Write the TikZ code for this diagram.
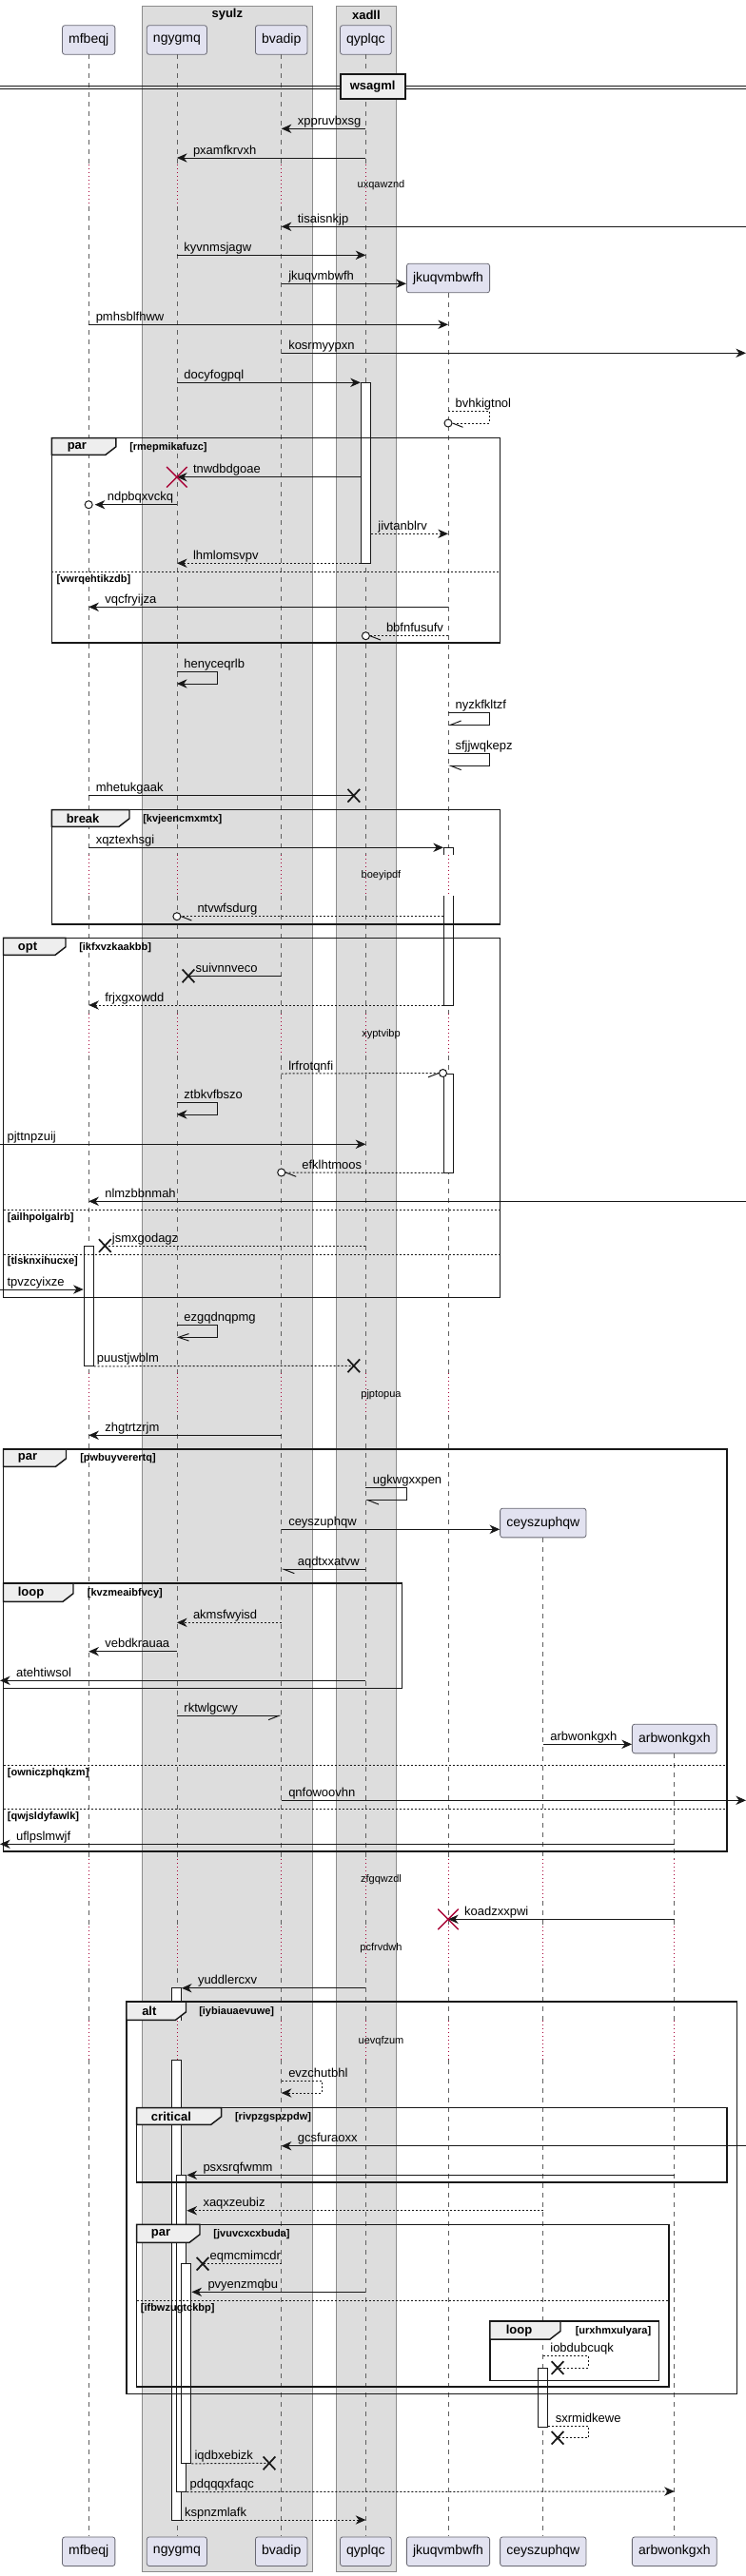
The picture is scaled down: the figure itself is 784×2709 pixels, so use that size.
\documentclass[tikz,border=0pt]{standalone}
\usepackage{fontspec}
\setmainfont{Liberation Sans}
\usetikzlibrary{arrows.meta,calc,shapes.misc}

\definecolor{grpfill}{RGB}{221,221,221}
\definecolor{grpline}{RGB}{140,140,140}
\definecolor{partfill}{RGB}{226,226,240}
\definecolor{partline}{RGB}{105,105,115}
\definecolor{lifegray}{RGB}{95,95,95}
\definecolor{crimson}{RGB}{168,0,54}
\definecolor{tabfill}{RGB}{238,238,238}
\definecolor{ink}{RGB}{24,24,24}

\tikzset{
  part/.style={draw=partline, fill=partfill, rounded corners=2pt, line width=0.6pt,
    minimum height=23pt, inner xsep=5pt, font=\fontsize{10.5}{12}\selectfont},
  grp/.style={draw=grpline, fill=grpfill, line width=0.6pt},
  grptitle/.style={inner sep=0pt, font=\fontsize{9.75}{11}\selectfont\bfseries},
  life/.style={draw=lifegray, line width=0.55pt, dash pattern=on 3.75pt off 3.75pt},
  delay/.style={draw=crimson, line width=0.6pt, dash pattern=on 0.6pt off 2.4pt},
  delaytext/.style={inner sep=0pt, font=\fontsize{8.25}{10}\selectfont},
  divbox/.style={draw=ink, fill=tabfill, line width=1.3pt, minimum width=51pt,
    minimum height=19.7pt, inner sep=0pt, font=\fontsize{9.75}{11}\selectfont\bfseries},
  frm/.style={draw=ink, line width=1.1pt},
  tab/.style={draw=ink, fill=tabfill, line width=1.1pt},
  tabtext/.style={anchor=west, inner sep=0pt, font=\fontsize{9.75}{11}\selectfont\bfseries},
  cond/.style={anchor=west, inner sep=0pt, font=\fontsize{8.25}{10}\selectfont\bfseries},
  sep/.style={draw=ink, line width=0.6pt, dash pattern=on 1.5pt off 1.5pt},
  msg/.style={draw=ink, line width=0.75pt},
  ret/.style={msg, dash pattern=on 1.5pt off 1.5pt},
  tip/.style={-{Stealth[length=8pt,width=7pt,inset=2.5pt]}},
  harp/.style={-{Straight Barb[harpoon,length=8.25pt,width=6.5pt]}},
  harpsw/.style={-{Straight Barb[harpoon,swap,length=8.25pt,width=6.5pt]}},
  barb/.style={-{Straight Barb[length=8.25pt,width=5.6pt]}},
  lr/.style={anchor=base west, inner sep=0pt, xshift=5.3pt, yshift=3pt, font=\fontsize{9.75}{11}\selectfont},
  rl/.style={anchor=base west, inner sep=0pt, xshift=12.45pt, yshift=3pt, font=\fontsize{9.75}{11}\selectfont},
  lrb/.style={anchor=base west, inner sep=0pt, xshift=2pt, yshift=3pt, font=\fontsize{9.75}{11}\selectfont},
  act/.style={draw=ink, fill=white, line width=0.75pt, minimum width=7.5pt, inner sep=0pt},
  lost/.style={draw=ink, cross out, line width=1.3pt, minimum width=8.25pt, minimum height=9pt, inner sep=0pt},
  kill/.style={draw=crimson, cross out, line width=1.1pt, minimum size=15pt, inner sep=0pt},
  ring/.style={draw=ink, fill=white, circle, line width=0.75pt, minimum size=6pt, inner sep=0pt},
}

\begin{document}
\begin{tikzpicture}[x=0.75pt,y=-0.75pt]
\useasboundingbox (0,0) rectangle (784,2709);

% Group boxes
\draw[grp] (149.6,6) rectangle (328,2704.3);
\draw[grp] (353.2,6) rectangle (416.6,2704.3);
\node[grptitle] (syulz) at (238.8,15.5) {syulz};
\node[grptitle] (xadll) at (384.9,15.5) {xadll};

% Edges of the page
\coordinate (lft) at (0,0);
\coordinate (rgt) at (784,0);

% Participants
\node[part] (mfbeqj) at (93.2,42) {mfbeqj};
\node[part] (ngygmq) at (185.9,42) {ngygmq};
\node[part] (bvadip) at (295.7,42) {bvadip};
\node[part] (qyplqc) at (384.4,42) {qyplqc};
\node[part] (jkuqvmbwfh) at (471,292.5) {jkuqvmbwfh};
\node[part] (ceyszuphqw) at (570.8,1601.5) {ceyszuphqw};
\node[part] (arbwonkgxh) at (708.8,1828.5) {arbwonkgxh};
\node[part] (mfbeqj-end) at (93.2,2683.2) {mfbeqj};
\node[part] (ngygmq-end) at (185.9,2683.2) {ngygmq};
\node[part] (bvadip-end) at (295.7,2683.2) {bvadip};
\node[part] (qyplqc-end) at (384.4,2683.2) {qyplqc};
\node[part] (jkuqvmbwfh-end) at (471,2683.2) {jkuqvmbwfh};
\node[part] (ceyszuphqw-end) at (570.8,2683.2) {ceyszuphqw};
\node[part] (arbwonkgxh-end) at (708.8,2683.2) {arbwonkgxh};

% Lifelines, dotted where a delay is
\foreach \p in {mfbeqj,ngygmq,bvadip,qyplqc}{
  \foreach \ya/\yb in {57.3/173,217/899,942/1066,1110/1444,1488/1955,1999/2026,2070/2125,2166/2667.3}
    \draw[life] (\p |- 0,\ya) -- (\p |- 0,\yb);
  \foreach \ya/\yb in {173/217,899/942,1066/1110,1444/1488,1955/1999,2026/2070,2125/2166}
    \draw[delay] (\p |- 0,\ya) -- (\p |- 0,\yb);
}
\foreach \ya/\yb in {308.3/899,942/1066,1110/1444,1488/1955,1999/2026,2070/2125,2166/2667.3}
  \draw[life] (jkuqvmbwfh |- 0,\ya) -- (jkuqvmbwfh |- 0,\yb);
\foreach \ya/\yb in {899/942,1066/1110,1444/1488,1955/1999,2026/2070,2125/2166}
  \draw[delay] (jkuqvmbwfh |- 0,\ya) -- (jkuqvmbwfh |- 0,\yb);
\foreach \p/\ys in {ceyszuphqw/1617.3,arbwonkgxh/1844.3}{
  \foreach \ya/\yb in {\ys/1955,1999/2026,2070/2125,2166/2667.3}
    \draw[life] (\p |- 0,\ya) -- (\p |- 0,\yb);
  \foreach \ya/\yb in {1955/1999,2026/2070,2125/2166}
    \draw[delay] (\p |- 0,\ya) -- (\p |- 0,\yb);
}

% Delay texts
\node[delaytext] (d1) at (400.5,195) {uxqawznd};
\node[delaytext] (d2) at (400.5,921) {boeyipdf};
\node[delaytext] (d3) at (400.5,1087.7) {xyptvibp};
\node[delaytext] (d4) at (400.5,1466.7) {pjptopua};
\node[delaytext] (d5) at (400.5,1976.7) {zfgqwzdl};
\node[delaytext] (d6) at (400.5,2048.3) {pcfrvdwh};
\node[delaytext] (d7) at (400.5,2146.7) {uevqfzum};

% Divider
\draw[msg] (lft |- 0,90) -- (rgt |- 0,90);
\draw[msg] (lft |- 0,93.5) -- (rgt |- 0,93.5);
\node[divbox] (wsagml) at (391.7,91.2) {wsagml};

% Activation bars
\node[act, minimum height=142.5pt] (qa1) at (384.4,497.3) {};
\node[act, minimum height=94.73pt] (ma1) at (93.2,1373.15) {};
\node[act, minimum height=78pt] (ja2) at (471,1181) {};
\node[act, minimum height=46.73pt] (ca1) at (570.8,2521.15) {};
\fill[white] (466,891.3) rectangle (476,899);
\draw[act] (466,899) |- (476,891.3) -- (476,899);
\fill[white] (466,942) rectangle (476,1057);
\draw[act] (466,942) |- (476,1057) -- (476,942);
\fill[white] (180.9,2090.7) rectangle (190.9,2125);
\draw[act] (180.9,2125) |- (190.9,2090.7) -- (190.9,2125);
\draw[act] (180.9,2166) rectangle (190.9,2650);
\node[act, minimum height=249.53pt] (na2) at (190.9,2453.65) {};
\node[act, minimum height=157.2pt] (na3) at (195.9,2485.5) {};

% Frame par
\draw[frm] (54.4,460.7) rectangle (525.4,676);
\draw[tab] (54.4,460.7) -- (121.9,460.7) -- (121.9,469.8) -- (110.9,478.3) -- (54.4,478.3) -- cycle;
\node[tabtext] (f1tab) at (70.5,470.2) {par};
\node[cond] (f1cond) at (136,470.2) {[rmepmikafuzc]};
\draw[sep] (54.4,601.7) -- (525.4,601.7);
\node[cond] (f1else) at (59.4,609.3) {[vwrqehtikzdb]};

% Frame break
\draw[frm] (54.4,851.7) rectangle (525.4,972);
\draw[tab] (54.4,851.7) -- (136,851.7) -- (136,860.8) -- (125,869.3) -- (54.4,869.3) -- cycle;
\node[tabtext] (f2tab) at (69.5,861.2) {break};
\node[cond] (f2cond) at (150,861.2) {[kvjeencmxmtx]};

% Frame opt
\draw[frm] (3.5,986.3) rectangle (525.4,1364.3);
\draw[tab] (3.5,986.3) -- (69,986.3) -- (69,995.8) -- (58,1004.3) -- (3.5,1004.3) -- cycle;
\node[tabtext] (f3tab) at (18.6,996.2) {opt};
\node[cond] (f3cond) at (83,996.2) {[ikfxvzkaakbb]};
\draw[sep] (3.5,1272.3) -- (525.4,1272.3);
\node[cond] (f3else1) at (7.6,1280.7) {[ailhpolgalrb]};
\draw[sep] (3.5,1319.3) -- (525.4,1319.3);
\node[cond] (f3else2) at (7.6,1326.3) {[tlsknxihucxe]};

% Frame par
\draw[frm] (3.5,1524) rectangle (764.2,1947);
\draw[tab] (3.5,1524) -- (69.5,1524) -- (69.5,1533.8) -- (58.5,1542.3) -- (3.5,1542.3) -- cycle;
\node[tabtext] (f4tab) at (18.6,1533.8) {par};
\node[cond] (f4cond) at (84,1533.8) {[pwbuyverertq]};
\draw[sep] (3.5,1856.7) -- (764.2,1856.7);
\node[cond] (f4else1) at (7.6,1865) {[owniczphqkzm]};
\draw[sep] (3.5,1902.3) -- (764.2,1902.3);
\node[cond] (f4else2) at (7.6,1911) {[qwjsldyfawlk]};

% Frame loop
\draw[frm] (3.5,1665) rectangle (422.7,1775.3);
\draw[tab] (3.5,1665) -- (77,1665) -- (77,1675.8) -- (66,1684.3) -- (3.5,1684.3) -- cycle;
\node[tabtext] (f5tab) at (18.6,1675.2) {loop};
\node[cond] (f5cond) at (91.7,1675.2) {[kvzmeaibfvcy]};

% Frame alt
\draw[frm] (133,2105) rectangle (774.3,2517.3);
\draw[tab] (133,2105) -- (195.5,2105) -- (195.5,2115.8) -- (184.5,2124.3) -- (133,2124.3) -- cycle;
\node[tabtext] (f6tab) at (149,2115.2) {alt};
\node[cond] (f6cond) at (209,2115.2) {[iybiauaevuwe]};

% Frame critical
\draw[frm] (143.6,2216.7) rectangle (764.2,2295);
\draw[tab] (143.6,2216.7) -- (232.7,2216.7) -- (232.7,2225.8) -- (221.7,2234.3) -- (143.6,2234.3) -- cycle;
\node[tabtext] (f7tab) at (158.7,2226.2) {critical};
\node[cond] (f7cond) at (246.8,2226.2) {[rivpzgspzpdw]};

% Frame par
\draw[frm] (143.6,2339.3) rectangle (702.8,2510);
\draw[tab] (143.6,2339.3) -- (210,2339.3) -- (210,2349.8) -- (199,2358.3) -- (143.6,2358.3) -- cycle;
\node[tabtext] (f8tab) at (158.7,2349.5) {par};
\node[cond] (f8cond) at (224.2,2349.5) {[jvuvcxcxbuda]};
\draw[sep] (143.6,2419.3) -- (702.8,2419.3);
\node[cond] (f8else) at (147.6,2427.7) {[ifbwzugtckbp]};

% Frame loop
\draw[frm] (514.9,2441) rectangle (692.7,2503.3);
\draw[tab] (514.9,2441) -- (589,2441) -- (589,2451.5) -- (578,2460) -- (514.9,2460) -- cycle;
\node[tabtext] (f9tab) at (531.5,2451.2) {loop};
\node[cond] (f9cond) at (604.5,2451.2) {[urxhmxulyara]};

% Messages
\draw[msg,tip] (qyplqc |- 0,135.3) -- (bvadip |- 0,135.3) node[rl] {xppruvbxsg};
\draw[msg,tip] (qyplqc |- 0,166) -- (ngygmq |- 0,166) node[rl] {pxamfkrvxh};
\draw[msg,tip] (rgt |- 0,238.3) -- (bvadip |- 0,238.3) node[rl] {tisaisnkjp};
\draw[msg,tip] (ngygmq |- 0,268.3) node[lr] {kyvnmsjagw} -- (qyplqc |- 0,268.3);
\draw[msg,tip] (bvadip |- 0,298.3) node[lr] {jkuqvmbwfh} -- (jkuqvmbwfh.west |- 0,298.3);
\draw[msg,tip] (mfbeqj |- 0,341.3) node[lr] {pmhsblfhww} -- (jkuqvmbwfh |- 0,341.3);
\draw[msg,tip] (bvadip |- 0,371.3) node[lr] {kosrmyypxn} -- (rgt |- 0,371.3);
\draw[msg,tip] (ngygmq |- 0,402.3) node[lr] {docyfogpql} -- (qa1.west |- 0,402.3);
\node[ring] (o1) at (jkuqvmbwfh |- 0,445) {};
\draw[ret] (jkuqvmbwfh |- 0,432.3) node[lr] {bvhkigtnol} -- ++(43,0) |- (o1.east);
\draw[msg] (o1.east) -- ++(11,4.3);
\draw[msg,tip] (qa1.west |- 0,501.7) -- (ngygmq |- 0,501.7) node[rl] {tnwdbdgoae};
\node[kill] (k1) at (ngygmq |- 0,501.7) {};
\node[ring] (o2) at (mfbeqj |- 0,530.7) {};
\draw[msg,tip] (ngygmq |- 0,530.7) -- ($(o2.east)+(2,0)$) node[rl, xshift=-3pt] {ndpbqxvckq};
\draw[ret,tip] (qa1.east |- 0,561.3) node[lr] {jivtanblrv} -- (jkuqvmbwfh |- 0,561.3);
\draw[ret,tip] (qa1.west |- 0,592.3) -- (ngygmq |- 0,592.3) node[rl] {lhmlomsvpv};
\draw[msg,tip] (jkuqvmbwfh |- 0,638.3) -- (mfbeqj |- 0,638.3) node[rl] {vqcfryijza};
\node[ring] (o3) at (qyplqc |- 0,668.7) {};
\draw[ret] (jkuqvmbwfh |- 0,668.7) -- (o3.east) node[rl] {bbfnfusufv};
\draw[msg] (o3.east) -- ++(11,4.3);
\draw[msg,tip] (ngygmq |- 0,706.7) node[lr] {henyceqrlb} -- ++(42.3,0) |- (ngygmq |- 0,719);
\draw[msg,harpsw] (jkuqvmbwfh |- 0,749.3) node[lr] {nyzkfkltzf} -- ++(43,0) |- (jkuqvmbwfh |- 0,762.3);
\draw[msg,harp] (jkuqvmbwfh |- 0,792.3) node[lr] {sfjjwqkepz} -- ++(43,0) |- (jkuqvmbwfh |- 0,805.3);
\node[lost] (x1) at ($(qyplqc |- 0,836.7)+(-12.6,0)$) {};
\draw[msg] (mfbeqj |- 0,836.7) node[lr] {mhetukgaak} -- (x1.center);
\draw[msg,tip] (mfbeqj |- 0,891.3) node[lr] {xqztexhsgi} -- ($(jkuqvmbwfh |- 0,891.3)+(-5,0)$);
\node[ring] (o4) at (ngygmq |- 0,963.7) {};
\draw[ret] ($(jkuqvmbwfh |- 0,963.7)+(-5,0)$) -- (o4.east) node[rl] {ntvwfsdurg};
\draw[msg] (o4.east) -- ++(11,4.3);
\node[lost] (x2) at ($(ngygmq |- 0,1026.3)+(12.1,0)$) {};
\draw[msg] (bvadip |- 0,1026.3) -- (x2.center) node[lr] {suivnnveco};
\draw[ret,tip] ($(jkuqvmbwfh |- 0,1057)+(-5,0)$) -- (mfbeqj |- 0,1057) node[rl] {frjxgxowdd};
\node[ring] (o5) at (ja2.north west) {};
\draw[ret] (bvadip |- 0,1129) node[lr] {lrfrotqnfi} -- (o5.west);
\draw[msg] (o5.west) -- ++(-11,4.3);
\draw[msg,tip] (ngygmq |- 0,1159.3) node[lr] {ztbkvfbszo} -- ++(42.3,0) |- (ngygmq |- 0,1172);
\draw[msg,tip] (lft |- 0,1203.3) node[lr] {pjttnpzuij} -- (qyplqc |- 0,1203.3);
\node[ring] (o6) at (bvadip |- 0,1233) {};
\draw[ret] (ja2.south west) -- (o6.east) node[rl] {efklhtmoos};
\draw[msg] (o6.east) -- ++(11,4.3);
\draw[msg,tip] (rgt |- 0,1263.3) -- (mfbeqj |- 0,1263.3) node[rl] {nlmzbbnmah};
\node[lost] (x3) at ($(mfbeqj |- 0,1310)+(17.1,0)$) {};
\draw[ret] (qyplqc |- 0,1310) -- (x3.center) node[lr] {jsmxgodagz};
\draw[msg,tip] (lft |- 0,1356) node[lr] {tpvzcyixze} -- (ma1.west |- 0,1356);
\draw[msg,barb] (ngygmq |- 0,1393.3) node[lr] {ezgqdnqpmg} -- ++(42.3,0) |- (ngygmq |- 0,1406.3);
\node[lost] (x4) at ($(qyplqc |- 0,1436.3)+(-12.6,0)$) {};
\draw[ret] (ma1.south east) node[lrb] {puustjwblm} -- (x4.center);
\draw[msg,tip] (bvadip |- 0,1509.3) -- (mfbeqj |- 0,1509.3) node[rl] {zhgtrtzrjm};
\draw[msg,harp] (qyplqc |- 0,1564.3) node[lr] {ugkwgxxpen} -- ++(43.3,0) |- (qyplqc |- 0,1577.7);
\draw[msg,tip] (bvadip |- 0,1608.3) node[lr] {ceyszuphqw} -- (ceyszuphqw.west |- 0,1608.3);
\draw[msg,harp] (qyplqc |- 0,1650.3) -- (bvadip |- 0,1650.3) node[rl] {aqdtxxatvw};
\draw[ret,tip] (bvadip |- 0,1706.3) -- (ngygmq |- 0,1706.3) node[rl] {akmsfwyisd};
\draw[msg,tip] (ngygmq |- 0,1736.7) -- (mfbeqj |- 0,1736.7) node[rl] {vebdkrauaa};
\draw[msg,tip] (qyplqc |- 0,1767.3) -- (lft |- 0,1767.3) node[rl] {atehtiwsol};
\draw[msg,harpsw] (ngygmq |- 0,1804.3) node[lr] {rktwlgcwy} -- (bvadip |- 0,1804.3);
\draw[msg,tip] (ceyszuphqw |- 0,1834.3) node[lr] {arbwonkgxh} -- (arbwonkgxh.west |- 0,1834.3);
\draw[msg,tip] (bvadip |- 0,1893.3) node[lr] {qnfowoovhn} -- (rgt |- 0,1893.3);
\draw[msg,tip] (arbwonkgxh |- 0,1939.3) -- (lft |- 0,1939.3) node[rl] {uflpslmwjf};
\draw[msg,tip] (arbwonkgxh |- 0,2018.3) -- (jkuqvmbwfh |- 0,2018.3) node[rl] {koadzxxpwi};
\node[kill] (k2) at (jkuqvmbwfh |- 0,2018.3) {};
\draw[msg,tip] (qyplqc |- 0,2090.7) -- ($(ngygmq |- 0,2090.7)+(5,0)$) node[rl] {yuddlercxv};
\draw[ret,tip] (bvadip |- 0,2188.3) node[lr] {evzchutbhl} -- ++(42.3,0) |- (bvadip |- 0,2201);
\draw[msg,tip] (rgt |- 0,2256.7) -- (bvadip |- 0,2256.7) node[rl] {gcsfuraoxx};
\draw[msg,tip] (arbwonkgxh |- 0,2287.3) -- (na2.east |- 0,2287.3) node[rl] {psxsrqfwmm};
\draw[ret,tip] (ceyszuphqw |- 0,2324.7) -- (na2.east |- 0,2324.7) node[rl] {xaqxzeubiz};
\node[lost] (x5) at ($(ngygmq |- 0,2380.7)+(27.1,0)$) {};
\draw[ret] (bvadip |- 0,2380.7) -- (x5.center) node[lr] {eqmcmimcdr};
\draw[msg,tip] (qyplqc |- 0,2410.3) -- (na3.east |- 0,2410.3) node[rl] {pvyenzmqbu};
\node[lost] (x6) at ($(ceyszuphqw |- 0,2490)+(15.2,0)$) {};
\draw[ret] (ceyszuphqw |- 0,2477.7) node[lr] {iobdubcuqk} -- ++(47.3,0) |- (x6.center);
\node[lost] (x7) at ($(ceyszuphqw |- 0,2563.7)+(15.2,0)$) {};
\draw[ret] (ca1.east |- 0,2551.3) node[lr] {sxrmidkewe} -- ++(42.3,0) |- (x7.center);
\node[lost] (x8) at ($(bvadip |- 0,2590.3)+(-12.7,0)$) {};
\draw[ret] (na3.south east) node[lrb] {iqdbxebizk} -- (x8.center);
\draw[ret,tip] (na2.south east) node[lrb] {pdqqqxfaqc} -- (arbwonkgxh |- 0,2620);
\draw[ret,tip] ($(ngygmq |- 0,2650)+(5,0)$) node[lrb] {kspnzmlafk} -- (qyplqc |- 0,2650);

\end{tikzpicture}
\end{document}
